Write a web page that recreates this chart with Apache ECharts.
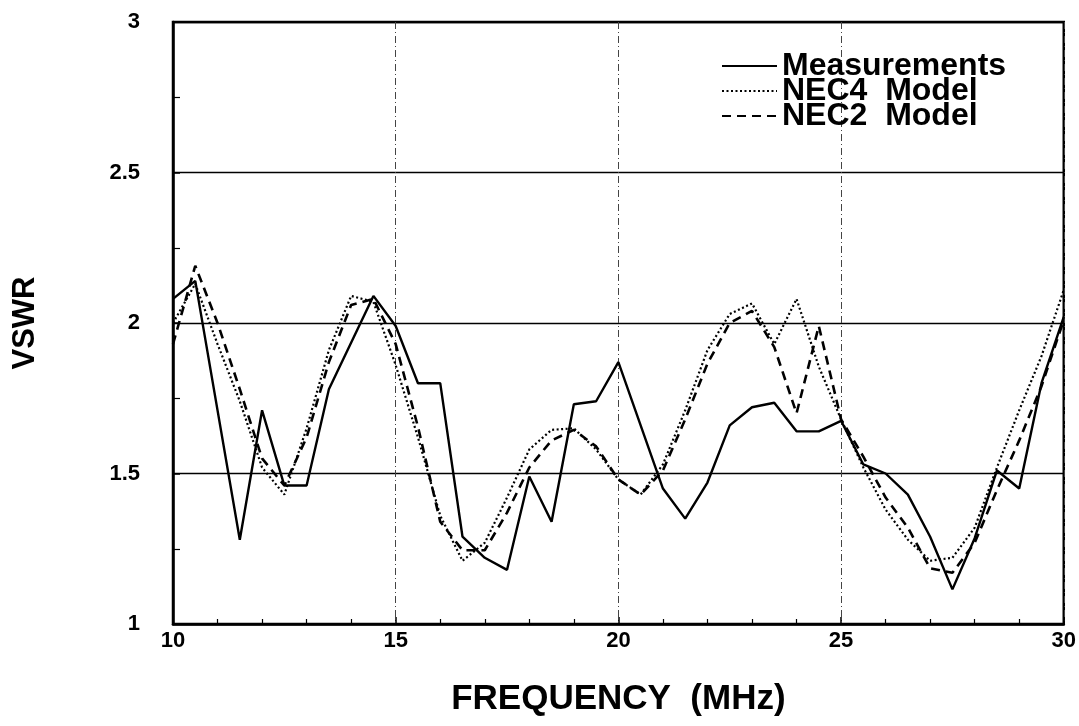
<!DOCTYPE html>
<html>
<head>
<meta charset="utf-8">
<script src="https://cdn.jsdelivr.net/npm/echarts@6/dist/echarts.min.js"></script>
<style>
html,body{margin:0;padding:0;background:#fff;}
#chart{width:1079px;height:726px;}
</style>
</head>
<body>
<div id="chart"></div>
<script>
// Measurements (solid)
const measFreq = [10, 10.5, 11.5, 12, 12.5, 13, 13.5, 14.5, 15, 15.5, 16, 16.5, 17, 17.5, 18, 18.5, 19, 19.5, 20, 21, 21.5, 22, 22.5, 23, 23.5, 24, 24.5, 25, 25.5, 26, 26.5, 27, 27.5, 28, 28.5, 29, 29.5, 30];
const measVSWR = [2.08, 2.14, 1.28, 1.71, 1.46, 1.46, 1.78, 2.09, 1.99, 1.80, 1.80, 1.29, 1.22, 1.18, 1.49, 1.34, 1.73, 1.74, 1.87, 1.45, 1.35, 1.47, 1.66, 1.72, 1.735, 1.64, 1.64, 1.675, 1.53, 1.50, 1.43, 1.29, 1.115, 1.285, 1.51, 1.45, 1.80, 2.02];

// Model frequencies
const modelFreq = [10, 10.5, 11, 11.5, 12, 12.5, 13, 13.5, 14, 14.5, 15, 15.5, 16, 16.5, 17, 17.5, 18, 18.5, 19, 19.5, 20, 20.5, 21, 21.5, 22, 22.5, 23, 23.5, 24, 24.5, 25, 25.5, 26, 26.5, 27, 27.5, 28, 28.5, 29, 29.5, 30];
// NEC4 Model (dotted)
const nec4VSWR = [2.00, 2.13, 1.93, 1.74, 1.52, 1.43, 1.65, 1.91, 2.09, 2.07, 1.86, 1.62, 1.36, 1.21, 1.27, 1.42, 1.58, 1.645, 1.65, 1.58, 1.48, 1.43, 1.53, 1.71, 1.91, 2.03, 2.065, 1.93, 2.08, 1.855, 1.68, 1.52, 1.38, 1.28, 1.21, 1.22, 1.32, 1.52, 1.71, 1.89, 2.11];
// NEC2 Model (dashed)
const nec2VSWR = [1.93, 2.19, 2.00, 1.78, 1.55, 1.46, 1.62, 1.87, 2.06, 2.08, 1.93, 1.655, 1.34, 1.245, 1.245, 1.37, 1.52, 1.61, 1.645, 1.59, 1.48, 1.43, 1.51, 1.68, 1.865, 2.00, 2.04, 1.92, 1.70, 1.99, 1.68, 1.556, 1.42, 1.32, 1.185, 1.17, 1.27, 1.445, 1.61, 1.79, 2.01];

const seriesNames = ['Measurements', 'NEC4  Model', 'NEC2  Model'];
const xTicks = [10, 15, 20, 25, 30];
const yTicks = [1, 1.5, 2, 2.5, 3];

const zip = (xs, ys) => xs.map((x, i) => [x, ys[i]]);
const FONT = '"Liberation Sans", Arial, Helvetica, sans-serif';

const chart = echarts.init(document.getElementById('chart'), null, {renderer: 'canvas'});
chart.setOption({
  backgroundColor: '#ffffff',
  animation: false,
  grid: {
    left: 173, right: 11, top: 22, bottom: 102,
    show: true, borderColor: '#000', borderWidth: 2.5, backgroundColor: 'transparent'
  },
  legend: {
    orient: 'vertical',
    left: 716, top: 45,
    itemWidth: 55, itemHeight: 14, itemGap: -7,
    data: seriesNames,
    itemStyle: {opacity: 0},
    textStyle: {fontFamily: FONT, fontWeight: 'bold', fontSize: 32, color: '#000'}
  },
  xAxis: {
    type: 'value', min: xTicks[0], max: xTicks[xTicks.length - 1], interval: 5,
    name: 'FREQUENCY  (MHz)', nameLocation: 'middle', nameGap: 58,
    nameTextStyle: {fontFamily: FONT, fontWeight: 'bold', fontSize: 35, color: '#000'},
    axisLine: {show: true, lineStyle: {color: '#000', width: 2.5}},
    axisTick: {show: true, inside: true, length: 7, lineStyle: {color: '#000', width: 1.5}},
    minorTick: {show: true, splitNumber: 5, length: 5, lineStyle: {color: '#000', width: 1.2}},
    axisLabel: {fontFamily: FONT, fontWeight: 'bold', fontSize: 22, color: '#000', margin: 6},
    splitLine: {show: true, lineStyle: {color: '#444', width: 1, type: [7, 3, 1, 3]}}
  },
  yAxis: {
    type: 'value', min: yTicks[0], max: yTicks[yTicks.length - 1], interval: 0.5,
    name: 'VSWR', nameLocation: 'middle', nameGap: 132, nameRotate: 90,
    nameTextStyle: {fontFamily: FONT, fontWeight: 'bold', fontSize: 31, color: '#000'},
    axisLine: {show: true, lineStyle: {color: '#000', width: 2.5}},
    axisTick: {show: true, inside: true, length: 7, lineStyle: {color: '#000', width: 1.5}},
    minorTick: {show: true, splitNumber: 2, length: 7, lineStyle: {color: '#000', width: 1.2}},
    axisLabel: {fontFamily: FONT, fontWeight: 'bold', fontSize: 22, color: '#000', margin: 33},
    splitLine: {show: true, lineStyle: {color: '#000', width: 1.3, type: 'solid'}}
  },
  series: [
    {
      name: seriesNames[0], type: 'line', data: zip(measFreq, measVSWR),
      symbol: 'none', color: '#000',
      lineStyle: {color: '#000', width: 2.4, type: 'solid'}
    },
    {
      name: seriesNames[1], type: 'line', data: zip(modelFreq, nec4VSWR),
      symbol: 'none', color: '#000',
      lineStyle: {color: '#000', width: 2.2, type: [2, 2.5]}
    },
    {
      name: seriesNames[2], type: 'line', data: zip(modelFreq, nec2VSWR),
      symbol: 'none', color: '#000',
      lineStyle: {color: '#000', width: 2.6, type: [9, 6]}
    }
  ]
});
</script>
</body>
</html>
